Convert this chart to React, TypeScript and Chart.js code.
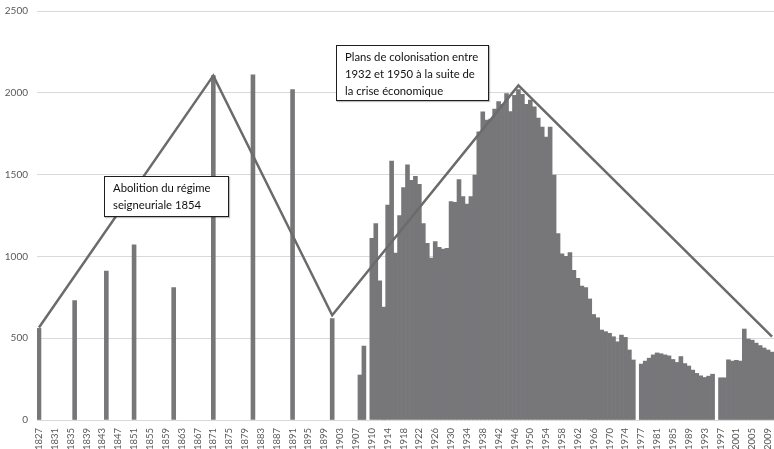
import React, { useEffect, useRef } from "react";
import { Chart, registerables } from "chart.js";

Chart.register(...registerables);

// Categories (years; two unlabeled spacer categories as in the source chart)
const years: string[] = [
  "1827","1828","1829","1830","1831","1832","1833","1834","1835","1836",
  "1837","1838","1839","1840","1841","1842","1843","1844","1845","1846",
  "1847","1848","1849","1850","1851","1852","1853","1854","1855","1856",
  "1857","1858","1859","1860","1861","1862","1863","1864","1865","1866",
  "1867","1868","1869","1870","1871","1872","1873","1874","1875","1876",
  "1877","1878","1879","1880","1881","1882","1883","1884","1885","1886",
  "1887","1888","1889","1890","1891","1892","1893","1894","1895","1896",
  "1897","1898","1899","1900","1901","1902","1903","1904","1905","1906",
  "1907","1908","1909","","1910","1911","1912","1913","1914","1915",
  "1916","1917","1918","1919","1920","1921","1922","1923","1924","1925",
  "1926","1927","1928","1929","1930","1931","1932","1933","1934","1935",
  "1936","1937","1938","1939","1940","1941","1942","1943","1944","1945",
  "1946","1947","1948","1949","1950","1951","1952","1953","1954","1955",
  "1956","1957","1958","1959","1960","1961","1962","1963","1964","1965",
  "1966","1967","1968","1969","1970","1971","1972","1973","1974","1975",
  "1976","","1977","1978","1979","1980","1981","1982","1983","1984",
  "1985","1986","1987","1988","1989","1990","1991","1992","1993","1994",
  "1995","1996","1997","1998","1999","2000","2001","2002","2003","2004",
  "2005","2006","2007","2008","2009","2010",
];

// Bar values, aligned with years (null = no bar)
const values: (number | null)[] = [
  560, null, null, null, null, null, null, null, null, 730,
  null, null, null, null, null, null, null, 910, null, null,
  null, null, null, null, 1070, null, null, null, null, null,
  null, null, null, null, 810, null, null, null, null, null,
  null, null, null, null, 2105, null, null, null, null, null,
  null, null, null, null, 2110, null, null, null, null, null,
  null, null, null, null, 2020, null, null, null, null, null,
  null, null, null, null, 620, null, null, null, null, null,
  null, 275, 452, null, 1110, 1200, 850, 690, 1314, 1583,
  1020, 1250, 1420, 1560, 1465, 1490, 1440, 1200, 1080, 990,
  1090, 1055, 1045, 1050, 1335, 1330, 1470, 1365, 1320, 1365,
  1497, 1762, 1884, 1834, 1840, 1900, 1946, 1930, 1995, 1885,
  1985, 2020, 1990, 1930, 1955, 1915, 1845, 1790, 1730, 1790,
  1497, 1140, 1015, 1000, 1023, 915, 866, 818, 810, 740,
  645, 625, 550, 540, 530, 509, 478, 519, 505, 428,
  367, null, 342, 360, 378, 398, 410, 405, 398, 392,
  370, 352, 388, 345, 330, 305, 285, 270, 260, 268,
  280, null, 258, 258, 368, 360, 365, 360, 556, 495,
  488, 470, 455, 440, 428, 415,
];

// Trend line vertices
const trendYears: string[] = ["1827", "1871", "1901", "1947", "2010"];
const trendValues: number[] = [565, 2105, 640, 2045, 510];

// Axis ticks
const yTicks: number[] = [0, 500, 1000, 1500, 2000, 2500];

// Annotations
const note1: string[] = ["Abolition du régime", "seigneuriale 1854"];
const note2: string[] = ["Plans de colonisation entre", "1932 et 1950 à la suite de", "la crise économique"];

const FONT = "Lato, 'Open Sans', sans-serif";

export default function App() {
  const ref = useRef<HTMLCanvasElement | null>(null);

  useEffect(() => {
    if (!ref.current) return;
    const lineData = years.map((y) => {
      const k = trendYears.indexOf(y);
      return k >= 0 ? trendValues[k] : null;
    });
    const chart = new Chart(ref.current, {
      type: "bar",
      data: {
        labels: years,
        datasets: [
          {
            type: "line",
            data: lineData,
            borderColor: "#6b6b6b",
            borderWidth: 2.5,
            pointRadius: 0,
            spanGaps: true,
            tension: 0,
            order: 0,
          } as any,
          {
            type: "bar",
            data: values,
            backgroundColor: "#77777a",
            borderWidth: 0,
            barPercentage: 1,
            categoryPercentage: 1,
            order: 1,
          },
        ],
      },
      options: {
        animation: false,
        responsive: false,
        devicePixelRatio: 1,
        layout: { padding: { top: 11, left: 0, right: 0, bottom: 0 } },
        plugins: { legend: { display: false }, tooltip: { enabled: false } },
        scales: {
          x: {
            type: "category",
            offset: true,
            grid: { display: false },
            border: { display: false },
            ticks: {
              autoSkip: false,
              minRotation: 90,
              maxRotation: 90,
              padding: 0,
              color: "#595959",
              font: { family: FONT, size: 9.5 },
              callback: (_v: any, i: number) => (i % 4 === 0 ? years[i] : ""),
            },
            afterFit: (s: any) => {
              s.height = 29;
              s.paddingLeft = 0;
              s.paddingRight = 0;
            },
          },
          y: {
            min: 0,
            max: 2500,
            afterBuildTicks: (s: any) => {
              s.ticks = yTicks.map((v) => ({ value: v }));
            },
            grid: { color: "#d9d9d9", lineWidth: 1, drawTicks: false },
            border: { display: false },
            ticks: {
              padding: 9,
              color: "#595959",
              font: { family: FONT, size: 10 },
              callback: (v: any) => String(v),
            },
            afterFit: (s: any) => {
              s.width = 37;
              s.paddingTop = 0;
              s.paddingBottom = 0;
            },
          },
        },
      },
    });
    return () => chart.destroy();
  }, []);

  const boxStyle: React.CSSProperties = {
    position: "absolute",
    boxSizing: "border-box",
    border: "1.5px solid #1e1e1e",
    background: "#ffffff",
    fontFamily: FONT,
    fontSize: 11.3,
    lineHeight: "17px",
    color: "#111",
    whiteSpace: "nowrap",
    boxShadow: "1px 1px 1px rgba(0,0,0,0.25)",
  };

  return (
    <div style={{ position: "absolute", left: 0, top: 0, width: 774, height: 449, background: "#fff", overflow: "hidden" }}>
      <canvas ref={ref} width={774} height={449} style={{ width: 774, height: 449, display: "block" }} />
      <div style={{ ...boxStyle, left: 104, top: 176, width: 125, height: 41, padding: "2px 0 0 8px" }}>
        {note1.map((t, i) => (
          <div key={i}>{t}</div>
        ))}
      </div>
      <div style={{ ...boxStyle, left: 336, top: 45, width: 153, height: 56, padding: "2px 0 0 8px" }}>
        {note2.map((t, i) => (
          <div key={i}>{t}</div>
        ))}
      </div>
    </div>
  );
}
